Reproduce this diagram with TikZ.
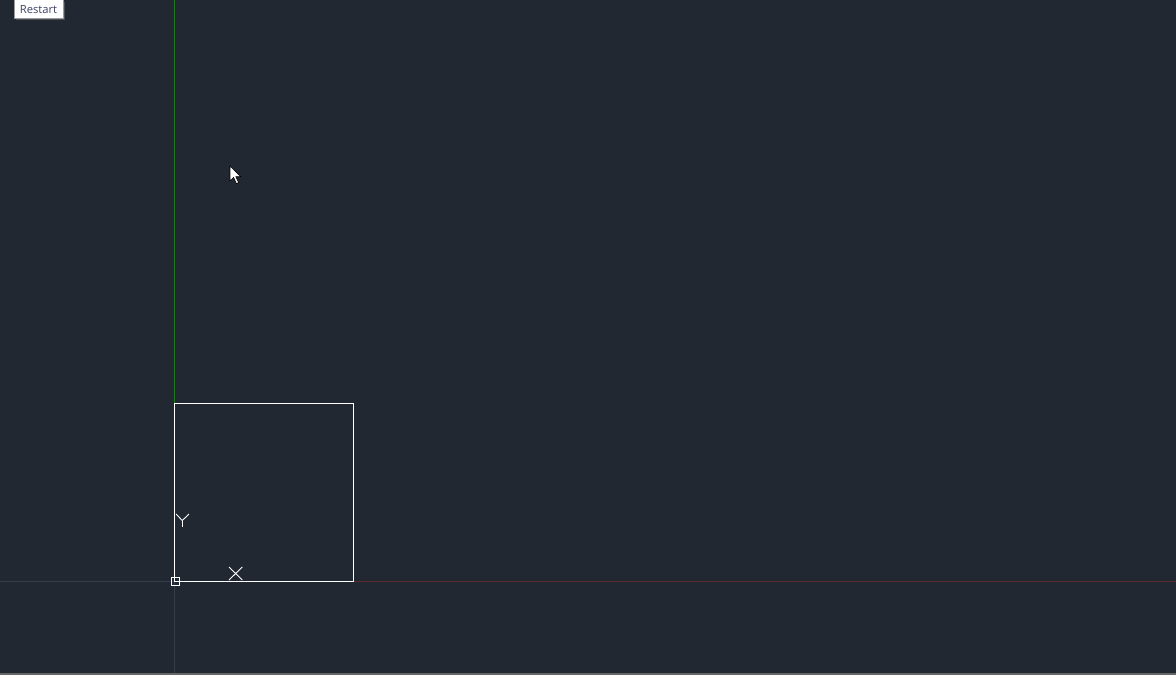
\documentclass[tikz,border=0pt]{standalone}
\usepackage{fontspec}
\newfontfamily\tipfont{Open Sans}
\definecolor{bg}{HTML}{222831}
\definecolor{greenaxis}{HTML}{1F7A1F}
\definecolor{redaxis}{HTML}{5C2A31}
\definecolor{dimaxis}{HTML}{363C4A}
\definecolor{tipborder}{HTML}{9A9A9A}
\definecolor{tiptext}{HTML}{3E4466}
\tikzset{
  geom/.style={draw=white, line width=1pt},
  ucs/.style={draw=white, line width=0.9pt},
}
\begin{document}
\begin{tikzpicture}[x=1pt,y=-1pt]
\useasboundingbox (0,0) rectangle (1176,675);
\fill[bg] (0,0) rectangle (1176,675);
\fill[black!60] (0,673) rectangle (1176,675);
% axes
\coordinate (o) at (174.5,581);
\coordinate (ytop) at (174.5,0);
\coordinate (ybot) at (174.5,673);
\coordinate (xl) at (0,581);
\coordinate (xr) at (1176,581);
\draw[dimaxis, line width=1pt] (xl) -- (o);
\draw[redaxis, line width=1pt] (353.5,581) -- (xr);
\draw[dimaxis, line width=1pt] (o) -- (ybot);
\draw[greenaxis, line width=1pt] (ytop) -- (174.5,403.5);
% square
\draw[geom] (174.5,403.5) rectangle (353.5,581);
% origin marker
\draw[ucs] (171,577) rectangle (179.5,585.5);
% Y label
\coordinate (yc) at (182.3,520.5);
\draw[ucs] (176,514) -- (yc) -- (189,514);
\draw[ucs] (yc) -- (182.3,527);
% X label
\draw[ucs] (229,567) -- (242.3,580);
\draw[ucs] (242.3,567) -- (229,580);
% cursor
\filldraw[fill=white, draw=black, line width=0.6pt]
  (230,166) -- (230,181) -- (233.6,177.4) -- (236.4,183.6) -- (238.6,182.6) -- (235.8,176.6) -- (240.8,176.6) -- cycle;
% tooltip
\fill[black!55, opacity=0.5] (16,2) rectangle (64.5,20);
\node[draw=tipborder, fill=white, line width=0.8pt, inner sep=0pt, minimum width=48.5pt, minimum height=18.5pt, anchor=north west] (tip) at (14,-1) {};
\node[text=tiptext, font=\tipfont\fontsize{11.2}{12}\selectfont, inner sep=0pt, anchor=base] (tiptxt) at (38.5,13.5) {Restart};
\end{tikzpicture}
\end{document}
